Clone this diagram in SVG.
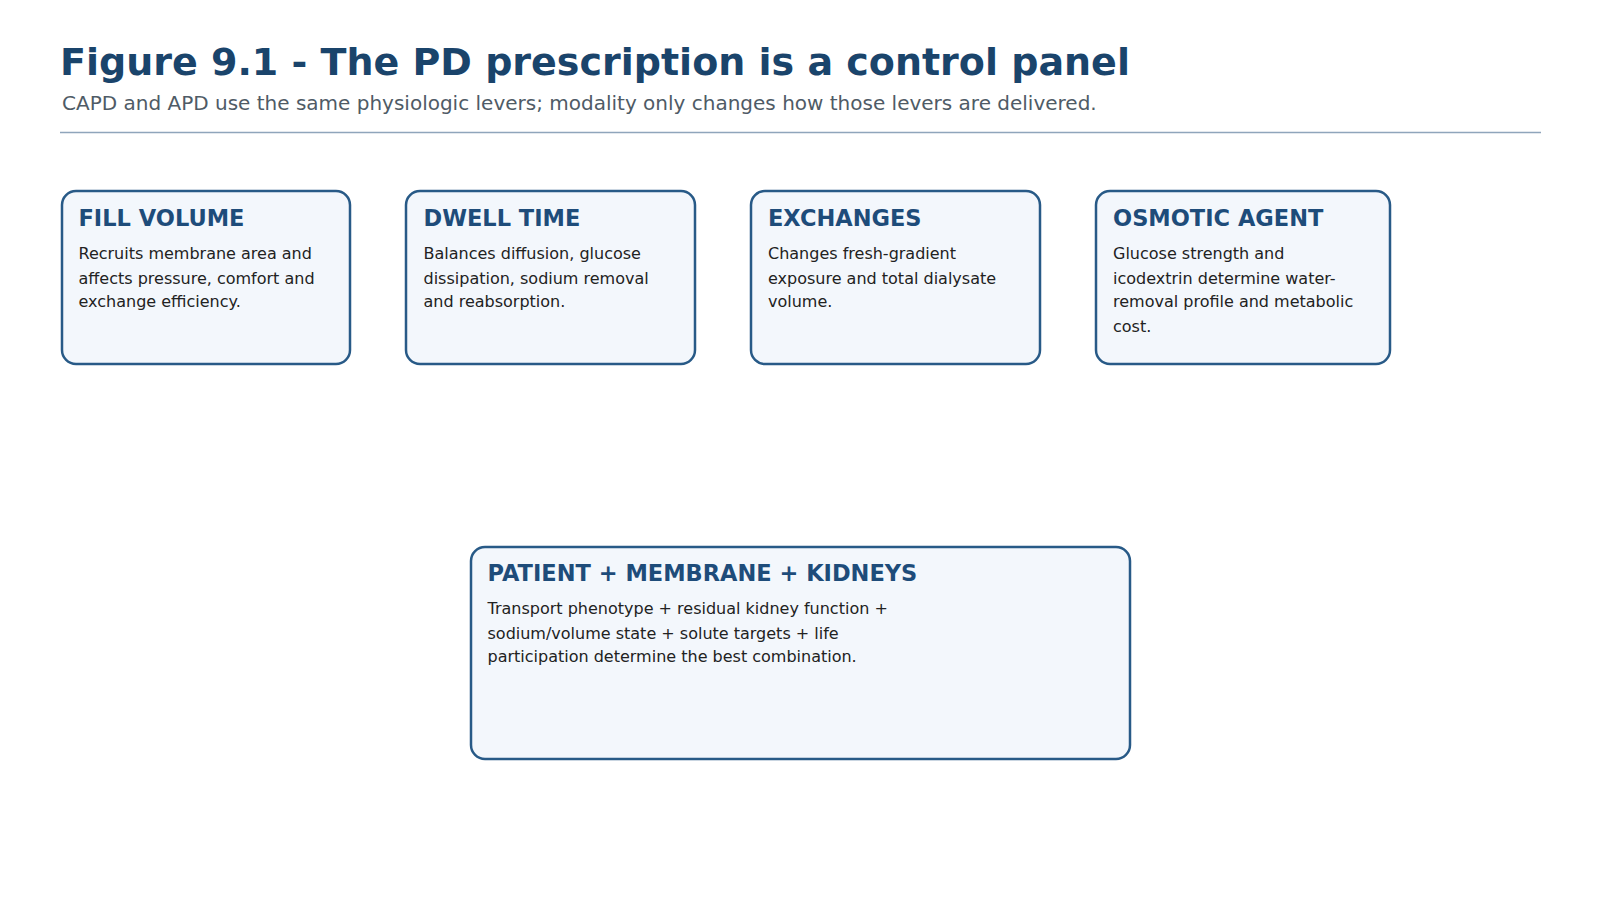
<svg xmlns="http://www.w3.org/2000/svg" width="1600" height="900" viewBox="0 0 1600 900">
<style>
text{font-family:"DejaVu Sans","Noto Sans",sans-serif}
.box{fill:#f3f7fc;stroke:#285a87;stroke-width:2.5}
.h{font-size:22.5px;font-weight:bold;fill:#1e4c7a}
.b{font-size:16px;fill:#222}
</style>
<rect width="1600" height="900" fill="#fff"/>
<text x="60" y="74.5" font-size="38" font-weight="bold" fill="#1a446b">Figure 9.1 - The PD prescription is a control panel</text>
<text x="62" y="110" font-size="20" fill="#4f5b66">CAPD and APD use the same physiologic levers; modality only changes how those levers are delivered.</text>
<line x1="60" y1="132.5" x2="1541" y2="132.5" stroke="#8fa5bb" stroke-width="1.5"/>
<g id="connectors"></g>
<g id="fill">
<rect class="box" x="62" y="191" width="288" height="173" rx="14"/>
<text class="h" x="78.5" y="225.5">FILL VOLUME</text>
<text class="b" x="78.5" y="259">Recruits membrane area and</text>
<text class="b" x="78.5" y="283.5">affects pressure, comfort and</text>
<text class="b" x="78.5" y="307">exchange efficiency.</text>
</g>
<g id="dwell">
<rect class="box" x="406" y="191" width="289" height="173" rx="14"/>
<text class="h" x="423.5" y="225.5">DWELL TIME</text>
<text class="b" x="423.5" y="259">Balances diffusion, glucose</text>
<text class="b" x="423.5" y="283.5">dissipation, sodium removal</text>
<text class="b" x="423.5" y="307">and reabsorption.</text>
</g>
<g id="exchanges">
<rect class="box" x="751" y="191" width="289" height="173" rx="14"/>
<text class="h" x="768" y="225.5">EXCHANGES</text>
<text class="b" x="768" y="259">Changes fresh-gradient</text>
<text class="b" x="768" y="283.5">exposure and total dialysate</text>
<text class="b" x="768" y="307">volume.</text>
</g>
<g id="osmotic">
<rect class="box" x="1096" y="191" width="294" height="173" rx="14"/>
<text class="h" x="1113" y="225.5">OSMOTIC AGENT</text>
<text class="b" x="1113" y="259">Glucose strength and</text>
<text class="b" x="1113" y="283.5">icodextrin determine water-</text>
<text class="b" x="1113" y="307">removal profile and metabolic</text>
<text class="b" x="1113" y="331.5">cost.</text>
</g>
<g id="patient">
<rect class="box" x="471" y="547" width="659" height="212" rx="14"/>
<text class="h" x="487.5" y="580.5">PATIENT + MEMBRANE + KIDNEYS</text>
<text class="b" x="487.5" y="614">Transport phenotype + residual kidney function +</text>
<text class="b" x="487.5" y="639">sodium/volume state + solute targets + life</text>
<text class="b" x="487.5" y="662">participation determine the best combination.</text>
</g>
</svg>
